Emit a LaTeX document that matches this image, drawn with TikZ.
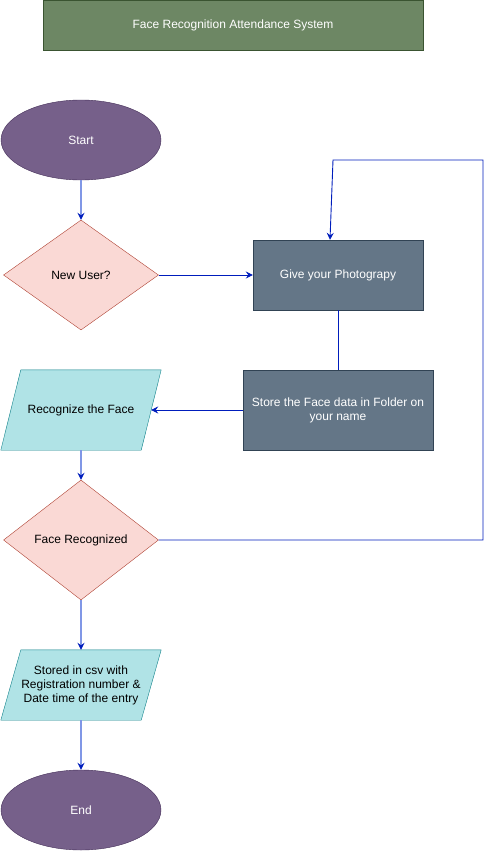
\documentclass[tikz,border=0pt]{standalone}
\usepackage{fontspec}
\setmainfont{Liberation Sans}
\usetikzlibrary{shapes.geometric,arrows.meta,backgrounds}
\definecolor{titlefill}{HTML}{6D8764}
\definecolor{titledraw}{HTML}{3A5431}
\definecolor{ovalfill}{HTML}{76608A}
\definecolor{ovaldraw}{HTML}{432D57}
\definecolor{decfill}{HTML}{FAD9D5}
\definecolor{decdraw}{HTML}{AE4132}
\definecolor{boxfill}{HTML}{647687}
\definecolor{boxdraw}{HTML}{314354}
\definecolor{parafill}{HTML}{B0E3E6}
\definecolor{paradraw}{HTML}{0E8088}
\definecolor{linkdark}{HTML}{001DBC}
\definecolor{linklight}{HTML}{8097E6}
\tikzset{
  every node/.style={font=\fontsize{12}{14}\selectfont, align=center, inner sep=0pt},
  titlebox/.style={draw=titledraw, fill=titlefill, text=white, minimum width=380, minimum height=50},
  oval/.style={ellipse, draw=ovaldraw, fill=ovalfill, text=white, minimum width=160, minimum height=80},
  decision/.style={diamond, draw=decdraw, fill=decfill, shape aspect=1.4},
  procbox/.style={draw=boxdraw, fill=boxfill, text=white},
  parabox/.style={minimum width=160},
  parashape/.style={draw=paradraw, fill=parafill},
  tip/.style={-{Stealth[length=7pt,width=7pt,inset=2.5pt,color=linkdark]}},
  linkd/.style={draw=linkdark, line width=0.9pt},
  linkl/.style={draw=linklight, line width=1.6pt},
}
\begin{document}
\begin{tikzpicture}[x=1pt,y=-1pt]
\useasboundingbox (0,0) rectangle (492,851);
\node[titlebox] (title) at (233,25) {Face Recognition Attendance System};
\node[oval] (start) at (81,140) {Start};
\node[decision, minimum width=155, minimum height=110] (newuser) at (81,275) {New User?};
\node[procbox, minimum width=170, minimum height=70] (photo) at (338,275) {Give your Photograpy};
\node[procbox, minimum width=190, minimum height=80] (store) at (338,410) {Store the Face data in Folder on\\your name};
\node[parabox, minimum height=80] (recog) at (81,410) {Recognize the Face};
\node[decision, minimum width=155, minimum height=120] (facerec) at (81,540) {Face Recognized};
\node[parabox, minimum height=70] (csv) at (81,685) {Stored in csv with\\Registration number \&\\ Date time of the entry};
\node[oval] (end) at (81,810) {End};
\begin{scope}[on background layer]
\path[parashape] ([xshift=20]recog.north west) -- (recog.north east) -- ([xshift=-20]recog.south east) -- (recog.south west) -- cycle;
\path[parashape] ([xshift=20]csv.north west) -- (csv.north east) -- ([xshift=-20]csv.south east) -- (csv.south west) -- cycle;
\end{scope}
\coordinate (loopa) at (483,540);
\coordinate (loopb) at (483,160);
\coordinate (loopc) at (333,160);
\path[linkl, tip] (start) -- (newuser);
\path[linkd, tip] (newuser.east) -- (photo.west);
\path[linkd] (photo.south) -- (store.north);
\path[linkd, tip] (store.west) -- ([xshift=-10]recog.east);
\path[linkl, tip] (recog.south) -- (facerec.north);
\path[linkd, tip] (facerec.east) -- (loopa) -- (loopb) -- (loopc) -- ([xshift=-8]photo.north);
\path[linkl, tip] (facerec.south) -- (csv.north);
\path[linkl, tip] (csv.south) -- (end.north);
\end{tikzpicture}
\end{document}
